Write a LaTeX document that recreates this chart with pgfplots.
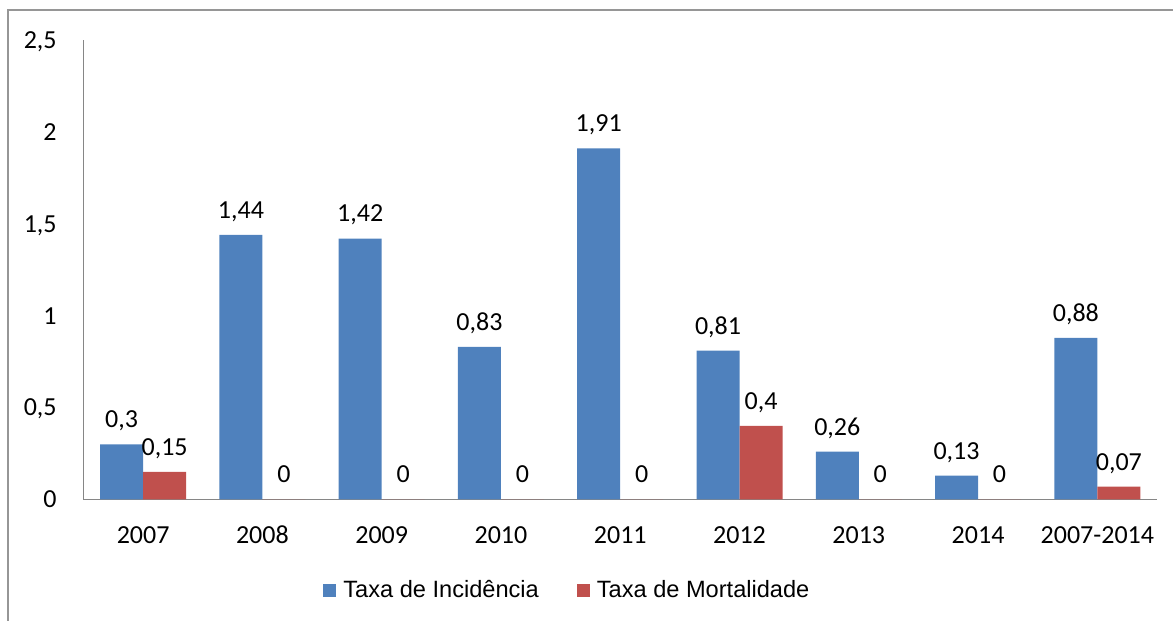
\documentclass[border=0pt]{standalone}
\usepackage{pgfplots}
\pgfplotsset{compat=1.18}
\usepackage{fontspec}
\setmainfont{Carlito}
\newfontfamily\arialf{Liberation Sans}
\definecolor{bblue}{HTML}{4F81BD}
\definecolor{rred}{HTML}{C0504D}
\definecolor{axgray}{HTML}{868686}
\definecolor{frgray}{HTML}{969696}
\begin{document}
\begin{tikzpicture}
\useasboundingbox (0,0) rectangle (586.5pt,310.5pt);
\draw[color=frgray, line width=1pt] (4.15pt,-2pt) -- (4.15pt,305.5pt) -- (590pt,305.5pt);
\begin{axis}[
  at={(41.75pt,60.75pt)}, anchor=south west,
  scale only axis, width=536.75pt, height=229.75pt,
  ymin=0, ymax=2.5, xmin=-0.5, xmax=8.5,
  ytick={0,0.5,1,1.5,2,2.5},
  yticklabels={0,{0,5},1,{1,5},2,{2,5}},
  xtick={0,1,2,3,4,5,6,7,8},
  xticklabels={2007,2008,2009,2010,2011,2012,2013,2014,2007-2014},
  axis x line=bottom, axis y line=left,
  axis line style={axgray, line width=0.8pt, -},
  major tick length=0pt,
  ticklabel style={font=\fontsize{13}{15}\selectfont},
  xticklabel style={anchor=base, inner sep=0pt, yshift=-21.8pt},
  yticklabel style={anchor=base east, inner sep=0pt, xshift=-13.25pt, yshift=-4.2pt},
  ybar=0pt, bar width=21.5pt,
  point meta=explicit symbolic,
  nodes near coords,
  every node near coord/.append style={font=\fontsize{13}{15}\selectfont, anchor=base, inner sep=0pt, yshift=8.3pt, text=black},
  legend style={at={(0.2231,-0.197)}, anchor=west, draw=none, fill=none,
    inner sep=0pt, nodes={inner sep=0pt},
    legend columns=2, font=\arialf\fontsize{11.8}{14}\selectfont,
    /tikz/every odd column/.append style={column sep=3.5pt},
    /tikz/every even column/.append style={column sep=19pt}},
  legend image code/.code={\fill[#1] (0pt,-3.25pt) rectangle (6.5pt,3.25pt);},
  clip=false,
]
\addplot[fill=bblue, draw=none] coordinates {(0,0.3) [0,3] (1,1.44) [1,44] (2,1.42) [1,42] (3,0.83) [0,83] (4,1.91) [1,91] (5,0.81) [0,81] (6,0.26) [0,26] (7,0.13) [0,13] (8,0.88) [0,88]};
\addlegendentry{Taxa de Incidência}
\addplot[fill=rred, draw=none] coordinates {(0,0.15) [0,15] (1,0) [0] (2,0) [0] (3,0) [0] (4,0) [0] (5,0.4) [0,4] (6,0) [0] (7,0) [0] (8,0.07) [0,07]};
\addlegendentry{Taxa de Mortalidade}
\end{axis}
\end{tikzpicture}
\end{document}
